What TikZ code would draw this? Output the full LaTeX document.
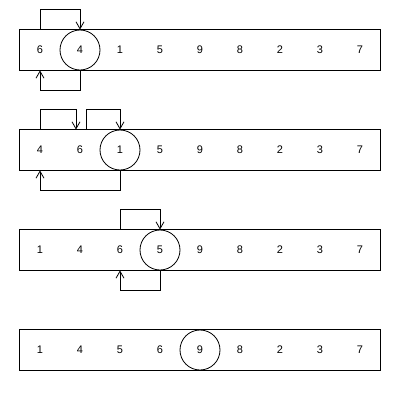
\documentclass[tikz,border=0pt]{standalone}
\usepackage{fontspec}
\setmainfont{Liberation Sans}
\usetikzlibrary{arrows.meta}
\begin{document}
\begin{tikzpicture}[x=1pt,y=-1pt,line width=0.8pt]
    \tikzset{%
        n/.style={inner sep=0pt, minimum width=40pt, minimum height=40pt, font=\fontsize{11}{13}\selectfont},
        m/.style={n, draw, circle, minimum size=40pt},
        e/.style={-{Straight Barb[length=7pt,width=8pt]}}%
        }
    \useasboundingbox (0,0) rectangle (400,400);
    % first pass
    \node[n](a1)at(40,50){6};
    \node[m](a2)at(80,50){4};
    \node[n](a3)at(120,50){1};
    \node[n](a4)at(160,50){5};
    \node[n](a5)at(200,50){9};
    \node[n](a6)at(240,50){8};
    \node[n](a7)at(280,50){2};
    \node[n](a8)at(320,50){3};
    \node[n](a9)at(360,50){7};
    \draw (a1.north west) rectangle (a9.south east);
    \draw[e] (a1.north) -- ++(0,-20) -| (a2.north);
    \draw[e] (a2.south) -- ++(0,20) -| (a1.south);
    % second pass
    \node[n](b1)at(40,150){4};
    \node[n](b2)at(80,150){6};
    \node[m](b3)at(120,150){1};
    \node[n](b4)at(160,150){5};
    \node[n](b5)at(200,150){9};
    \node[n](b6)at(240,150){8};
    \node[n](b7)at(280,150){2};
    \node[n](b8)at(320,150){3};
    \node[n](b9)at(360,150){7};
    \draw (b1.north west) rectangle (b9.south east);
    \draw[e] (b1.north) -- ++(0,-20) -| ([xshift=-4pt]b2.north);
    \draw[e] ([xshift=6pt]b2.north) -- ++(0,-20) -| (b3.north);
    \draw[e] (b3.south) -- ++(0,20) -| (b1.south);
    % third pass
    \node[n](c1)at(40,250){1};
    \node[n](c2)at(80,250){4};
    \node[n](c3)at(120,250){6};
    \node[m](c4)at(160,250){5};
    \node[n](c5)at(200,250){9};
    \node[n](c6)at(240,250){8};
    \node[n](c7)at(280,250){2};
    \node[n](c8)at(320,250){3};
    \node[n](c9)at(360,250){7};
    \draw (c1.north west) rectangle (c9.south east);
    \draw[e] (c3.north) -- ++(0,-20) -| (c4.north);
    \draw[e] (c4.south) -- ++(0,20) -| (c3.south);
    % fourth pass
    \node[n](d1)at(40,350){1};
    \node[n](d2)at(80,350){4};
    \node[n](d3)at(120,350){5};
    \node[n](d4)at(160,350){6};
    \node[m](d5)at(200,350){9};
    \node[n](d6)at(240,350){8};
    \node[n](d7)at(280,350){2};
    \node[n](d8)at(320,350){3};
    \node[n](d9)at(360,350){7};
    \draw (d1.north west) rectangle (d9.south east);
\end{tikzpicture}
\end{document}
